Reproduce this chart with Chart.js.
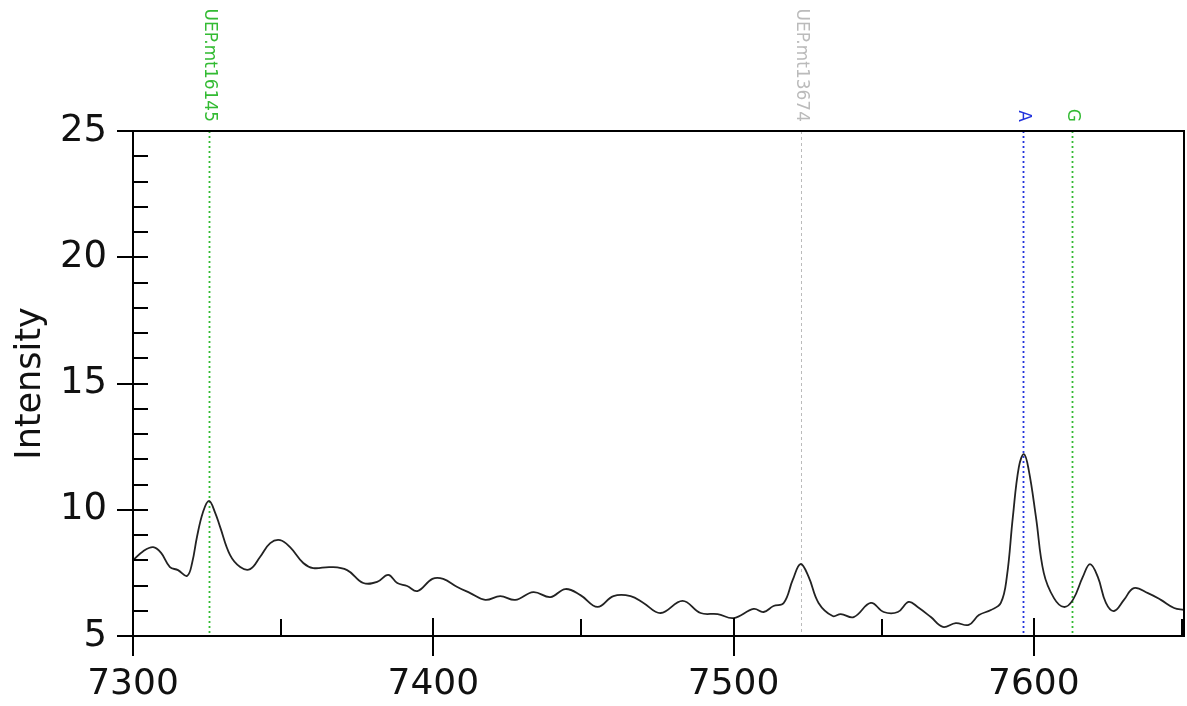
<!DOCTYPE html>
<html>
<head>
<meta charset="utf-8">
<script src="https://cdn.jsdelivr.net/npm/chart.js@4"></script>
<style>
  html, body { margin: 0; padding: 0; background: #fff; }
</style>
</head>
<body>
<canvas id="chart" width="1187" height="706"></canvas>
<script>
// Trace values
const positions = [
  7300, 7303.3, 7306.7, 7309.3, 7312.3, 7315, 7318, 7319.7, 7321.3, 7323.3,
  7325.3, 7327.3, 7329, 7332.3, 7335.7, 7339, 7342.3, 7345.7, 7349, 7352.3,
  7356.7, 7360, 7365.7, 7371.3, 7376.7, 7381.3, 7385, 7388, 7391.3, 7394.7,
  7399.7, 7403.3, 7408, 7412.3, 7417.3, 7422.3, 7427.3, 7433.3, 7439, 7444,
  7449, 7454.7, 7460, 7465.7, 7470, 7475.7, 7483, 7489, 7494.7, 7500,
  7506.7, 7510, 7513.3, 7516.7, 7519.7, 7522.3, 7525, 7528.3, 7533, 7535.7,
  7540, 7545.7, 7550, 7554.7, 7558.3, 7561.3, 7565.7, 7569.7, 7574, 7578.3,
  7581.7, 7585.7, 7589, 7591, 7593, 7595, 7596.7, 7598.3, 7600.7, 7603.3,
  7606.7, 7610, 7613, 7616.3, 7618.7, 7621.3, 7624, 7626.7, 7630, 7633.3,
  7638, 7642.3, 7646.7, 7650
];
const intensity = [
  8.0, 8.35, 8.52, 8.3, 7.73, 7.61, 7.38, 7.9, 8.92, 9.9,
  10.35, 9.9, 9.32, 8.21, 7.73, 7.65, 8.13, 8.68, 8.8, 8.52,
  7.89, 7.69, 7.73, 7.61, 7.1, 7.14, 7.42, 7.1, 6.98, 6.78,
  7.26, 7.26, 6.94, 6.7, 6.43, 6.58, 6.43, 6.74, 6.54, 6.86,
  6.62, 6.15, 6.58, 6.58, 6.31, 5.91, 6.39, 5.91, 5.87, 5.71,
  6.07, 5.95, 6.19, 6.31, 7.22, 7.85, 7.34, 6.31, 5.79, 5.87,
  5.75, 6.31, 5.95, 5.95, 6.35, 6.15, 5.75, 5.36, 5.51, 5.44,
  5.83, 6.03, 6.31, 7.34, 9.71, 11.69, 12.2, 11.57, 9.71, 7.5,
  6.5, 6.15, 6.43, 7.34, 7.85, 7.34, 6.31, 5.99, 6.43, 6.9,
  6.7, 6.43, 6.11, 6.03
];

// Marker lines above the trace
const markerLabels = ['UEP.mt16145', 'UEP.mt13674', 'A', 'G'];
const markerPositions = [7325.3, 7522.3, 7596.3, 7612.7];
const markerColors = ['#33bb33', '#bbbbbb', '#2233dd', '#33bb33'];

// Axis ticks
const xTickLabels = [7300, 7400, 7500, 7600];
const xMinorTicks = [7350, 7450, 7550, 7650];
const yTickLabels = [5, 10, 15, 20, 25];

const FONT = '"DejaVu Sans", Verdana, sans-serif';

const axisPlugin = {
  id: 'axisPlugin',
  beforeDatasetsDraw(chart) {
    const { ctx, chartArea: a, scales: { x } } = chart;
    ctx.save();
    markerPositions.forEach((pos, i) => {
      const px = Math.round(x.getPixelForValue(pos)) + 0.5;
      ctx.strokeStyle = markerColors[i];
      ctx.lineWidth = i === 1 ? 1 : 1.8;
      ctx.setLineDash(i === 1 ? [3, 3] : [2, 3]);
      ctx.beginPath();
      ctx.moveTo(px, a.top);
      ctx.lineTo(px, a.bottom);
      ctx.stroke();

      // rotated label, reading downwards
      ctx.setLineDash([]);
      ctx.save();
      ctx.translate(px, a.top - 9);
      ctx.rotate(Math.PI / 2);
      ctx.fillStyle = markerColors[i];
      ctx.font = '17px ' + FONT;
      ctx.textAlign = 'right';
      ctx.textBaseline = 'middle';
      ctx.fillText(markerLabels[i], 0, 0);
      ctx.restore();
    });
    ctx.restore();
  },
  afterDraw(chart) {
    const { ctx, chartArea: a, scales: { x, y } } = chart;
    ctx.save();
    ctx.strokeStyle = '#000';
    ctx.lineWidth = 2;
    ctx.strokeRect(a.left, a.top, a.right - a.left, a.bottom - a.top);

    ctx.beginPath();
    // y major ticks cross the axis, minor ones point inward
    for (let v = 5; v <= 25; v++) {
      const py = Math.round(y.getPixelForValue(v));
      const major = yTickLabels.includes(v);
      ctx.moveTo(major ? a.left - 16 : a.left, py);
      ctx.lineTo(a.left + 15, py);
    }
    xTickLabels.forEach(v => {
      const px = Math.round(x.getPixelForValue(v));
      ctx.moveTo(px, a.bottom - 18);
      ctx.lineTo(px, a.bottom + 20);
    });
    xMinorTicks.forEach(v => {
      const px = Math.round(x.getPixelForValue(v)) - 2;
      ctx.moveTo(px, a.bottom - 17);
      ctx.lineTo(px, a.bottom);
    });
    ctx.stroke();
    ctx.restore();
  }
};

new Chart(document.getElementById('chart'), {
  type: 'line',
  data: {
    datasets: [{
      data: positions.map((p, i) => ({ x: p, y: intensity[i] })),
      borderColor: '#222',
      borderWidth: 1.8,
      pointRadius: 0,
      tension: 0.4,
      fill: false
    }]
  },
  options: {
    responsive: false,
    animation: false,
    layout: { padding: { left: 0, right: 3, top: 131, bottom: 0 } },
    plugins: { legend: { display: false }, tooltip: { enabled: false } },
    scales: {
      x: {
        type: 'linear',
        min: 7300,
        max: 7650,
        grid: { display: false },
        border: { display: false },
        afterBuildTicks: s => { s.ticks = xTickLabels.map(v => ({ value: v })); },
        afterFit: s => { s.height = 70; },
        ticks: {
          color: '#111',
          padding: 23,
          maxRotation: 0,
          autoSkip: false,
          callback: v => String(v),
          font: { family: FONT, size: 36, lineHeight: 1 }
        }
      },
      y: {
        min: 5,
        max: 25,
        grid: { display: false },
        border: { display: false },
        afterBuildTicks: s => { s.ticks = yTickLabels.map(v => ({ value: v })); },
        afterFit: s => { s.width = 133; },
        title: {
          display: true,
          text: 'Intensity',
          color: '#111',
          padding: { top: 10, bottom: 0 },
          font: { family: FONT, size: 35, lineHeight: 1.2 }
        },
        ticks: {
          color: '#111',
          padding: 18,
          callback: v => String(v),
          font: { family: FONT, size: 37, lineHeight: 1 }
        }
      }
    }
  },
  plugins: [axisPlugin]
});
</script>
</body>
</html>
